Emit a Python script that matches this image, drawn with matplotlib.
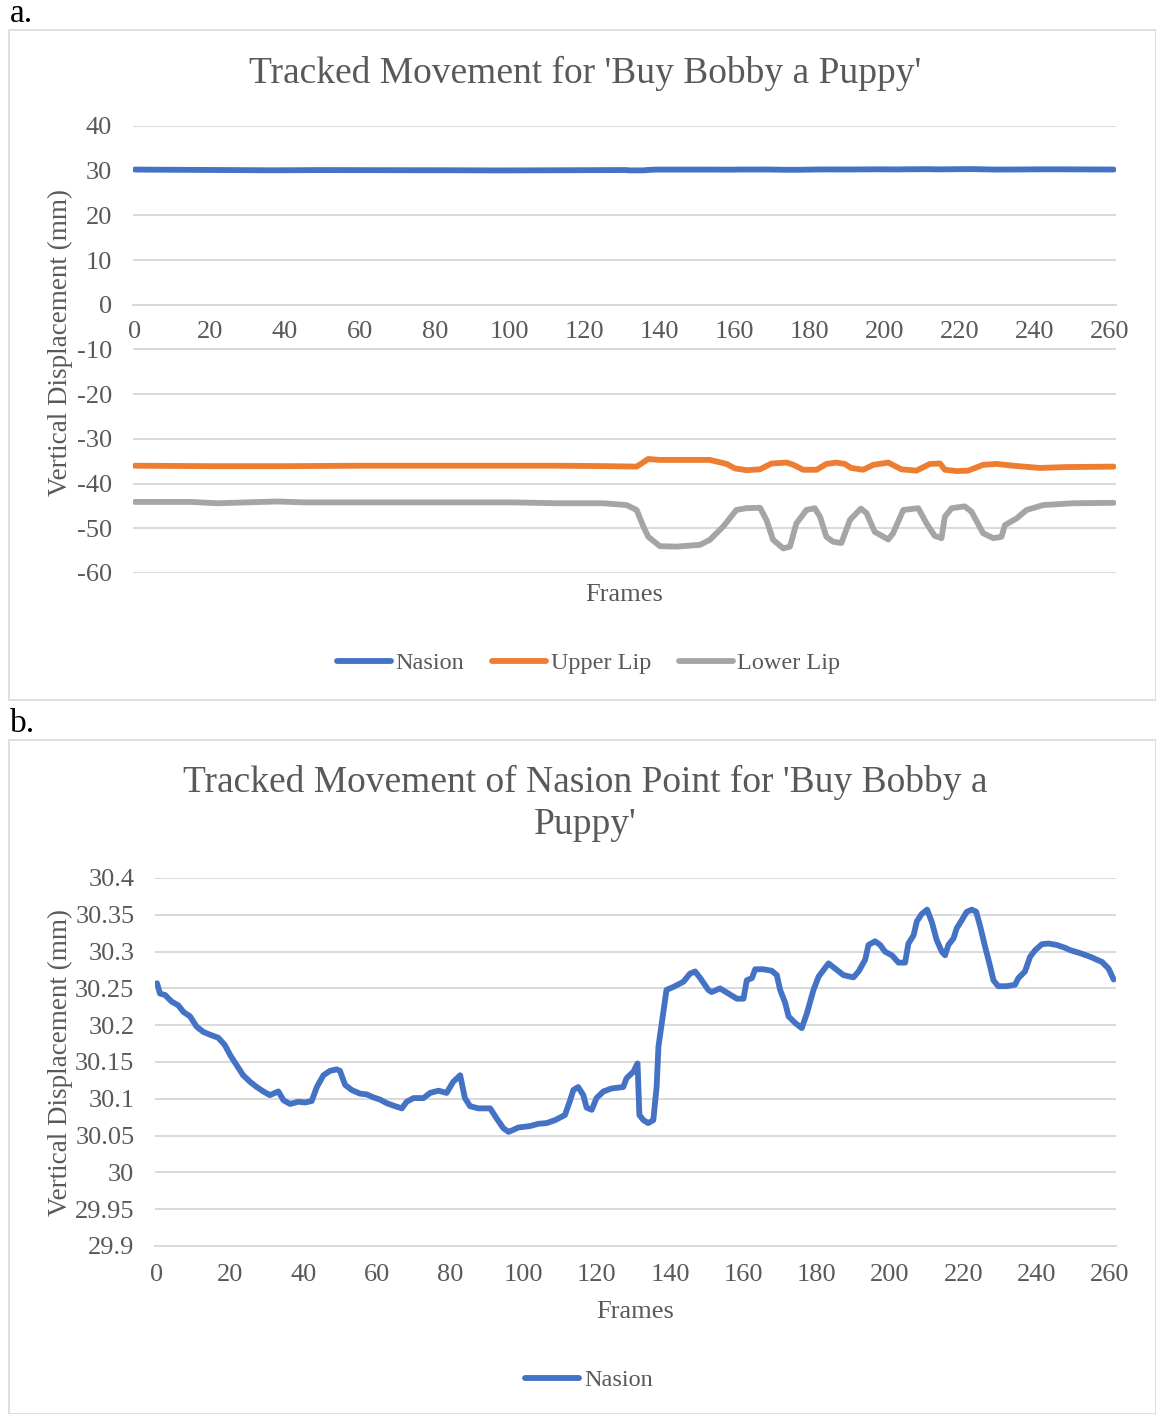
import matplotlib.pyplot as plt
from matplotlib.patches import Rectangle

# Nasion (shared by both panels)
nasion_frames = [0, 0.8, 2.2, 4, 5.8, 7.2, 9, 10.8, 12.6, 14.5, 16.7, 18.5, 20, 21.7, 23.5,
                 25.4, 27.2, 29, 30.8, 33.1, 34.5, 36.3, 38.6, 40.4, 42.2, 43.6, 45.4, 47.2,
                 49, 49.9, 51.3, 53.1, 55.4, 57.2, 59, 60.8, 62.7, 64.9, 66.8, 68.1, 70, 72.7,
                 74.5, 76.8, 79, 80.8, 82.7, 84, 85.4, 87.7, 90.9, 92.7, 94.5, 95.9, 98.6,
                 101.8, 104, 106.3, 108.6, 111.3, 112.7, 113.6, 114.9, 116.3, 117.2, 118.6,
                 119.9, 121.8, 124, 127.2, 128.1, 130, 131.1, 131.6, 132.7, 134, 135.4, 136.3,
                 136.8, 138.1, 139, 140.9, 143.6, 145.4, 146.8, 148.2, 150.4, 151.3, 153.6,
                 155.9, 158.2, 160, 160.9, 162.3, 163.2, 165.4, 167.7, 169.1, 170, 171.4,
                 172.3, 174.1, 175.9, 177.3, 179.1, 180.5, 183.2, 185, 187.3, 190, 191.4,
                 193.2, 194.1, 195.9, 197.3, 198.6, 200.5, 202.3, 204.1, 205, 206.4, 207.3,
                 208.6, 210.1, 211.4, 212.7, 214.1, 215, 215.9, 217.3, 218.2, 219.6, 220.9,
                 222.3, 223.5, 224.6, 225.9, 227.1, 228.2, 229.5, 231.8, 234.1, 235, 236.8,
                 238.2, 239.6, 241.4, 243.2, 245.5, 247.8, 249.1, 251.8, 254.6, 257.8, 259.6,
                 261]
nasion = [30.257, 30.243, 30.241, 30.232, 30.227, 30.218, 30.212, 30.198, 30.191, 30.187,
          30.183, 30.173, 30.159, 30.146, 30.132, 30.123, 30.116, 30.110, 30.105, 30.110,
          30.098, 30.093, 30.096, 30.095, 30.097, 30.116, 30.132, 30.138, 30.140, 30.138,
          30.119, 30.112, 30.107, 30.106, 30.102, 30.099, 30.094, 30.090, 30.087, 30.096,
          30.101, 30.101, 30.108, 30.111, 30.108, 30.123, 30.132, 30.101, 30.090, 30.087,
          30.087, 30.073, 30.060, 30.055, 30.061, 30.063, 30.066, 30.067, 30.071, 30.078,
          30.098, 30.112, 30.116, 30.105, 30.088, 30.085, 30.101, 30.110, 30.114, 30.116,
          30.128, 30.137, 30.148, 30.078, 30.071, 30.067, 30.071, 30.116, 30.171, 30.216,
          30.248, 30.252, 30.259, 30.270, 30.273, 30.264, 30.248, 30.245, 30.250, 30.243,
          30.236, 30.236, 30.261, 30.264, 30.276, 30.276, 30.274, 30.268, 30.248, 30.230,
          30.212, 30.203, 30.196, 30.216, 30.248, 30.266, 30.284, 30.277, 30.268, 30.265,
          30.273, 30.289, 30.309, 30.314, 30.309, 30.300, 30.295, 30.285, 30.285, 30.311,
          30.322, 30.341, 30.351, 30.357, 30.340, 30.316, 30.300, 30.295, 30.309, 30.318,
          30.332, 30.343, 30.354, 30.357, 30.354, 30.334, 30.307, 30.284, 30.261, 30.253,
          30.253, 30.255, 30.264, 30.273, 30.293, 30.302, 30.310, 30.311, 30.309, 30.305,
          30.302, 30.298, 30.293, 30.286, 30.277, 30.262]

upper_frames = [0, 20, 40, 60, 80, 100, 113, 126, 133.8, 135.1, 136.9, 140, 153.3, 157.8,
                160, 163.1, 166.7, 169.8, 173.8, 175.6, 178.2, 181.8, 184.4, 187.1, 189.3,
                191, 194.2, 196.9, 200.9, 204.4, 208.4, 212, 214.7, 216, 219.1, 222.2, 226.2,
                229.8, 234.2, 241.3, 248.4, 261]
upper_lip = [-36.0, -36.1, -36.1, -36.0, -36.0, -36.0, -36.0, -36.1, -36.2, -35.5, -34.5,
             -34.7, -34.7, -35.6, -36.6, -37.0, -36.8, -35.5, -35.3, -35.8, -36.9, -36.9,
             -35.6, -35.3, -35.6, -36.5, -36.9, -35.8, -35.3, -36.8, -37.1, -35.6, -35.5,
             -36.9, -37.2, -37.1, -35.8, -35.6, -36.0, -36.5, -36.3, -36.2]

lower_frames = [0, 15, 22, 30, 38, 45, 60, 80, 100, 113.3, 125, 131.1, 133.8, 135.6, 136.9,
                140, 144.4, 150.7, 153.3, 156.9, 160.4, 163.1, 166.7, 168.4, 170.2, 172.9,
                174.7, 176.4, 179.1, 181.3, 182.7, 184.4, 186.2, 188.4, 190.7, 193.6, 195.1,
                197.3, 200.9, 202.2, 204.9, 208.9, 211.1, 213.3, 215.1, 216, 217.8, 221.3,
                223.1, 226.2, 228.9, 231.1, 232, 235.1, 237.8, 242.2, 250.2, 261]
lower_lip = [-44.1, -44.1, -44.4, -44.2, -44.0, -44.2, -44.2, -44.2, -44.2, -44.4, -44.4,
             -44.8, -45.9, -49.6, -51.9, -54.0, -54.1, -53.7, -52.6, -49.6, -45.9, -45.5,
             -45.4, -48.1, -52.6, -54.5, -54.1, -48.9, -45.9, -45.5, -47.4, -51.9, -53.0,
             -53.3, -48.1, -45.6, -46.6, -50.8, -52.5, -51.1, -45.9, -45.5, -48.9, -51.7,
             -52.2, -47.4, -45.5, -45.1, -46.3, -51.1, -52.2, -51.9, -49.3, -47.8, -45.9,
             -44.8, -44.4, -44.3]

x_ticks = list(range(0, 261, 20))
yticks_a = list(range(-60, 41, 10))
yticks_b = [29.9, 29.95, 30, 30.05, 30.1, 30.15, 30.2, 30.25, 30.3, 30.35, 30.4]
yticklabels_b = ['29.9', '29.95', '30', '30.05', '30.1', '30.15', '30.2', '30.25', '30.3',
                 '30.35', '30.4']

plt.rcParams['font.family'] = ['Liberation Serif', 'DejaVu Serif']
plt.rcParams['axes.unicode_minus'] = False
TXT = '#595959'
GRID = '#D9D9D9'
BLUE, ORANGE, GRAY = '#4472C4', '#ED7D31', '#A5A5A5'
LW = 4.2

W, H = 1156, 1414
fig = plt.figure(figsize=(W / 100, H / 100), dpi=100)


def px_axes(left, top, right, bottom):
    return fig.add_axes([left / W, 1 - bottom / H, (right - left) / W, (bottom - top) / H])


def style(ax, yticks, ylabels, xpad):
    ax.set_xlim(-0.5, 261.5)
    ax.set_xticks(x_ticks)
    ax.set_yticks(yticks)
    if ylabels is not None:
        ax.set_yticklabels(ylabels)
    ax.grid(axis='y', color=GRID, lw=1.4)
    ax.set_axisbelow(True)
    for s in ['top', 'right', 'left']:
        ax.spines[s].set_visible(False)
    ax.spines['bottom'].set_color(GRID)
    ax.spines['bottom'].set_linewidth(1.4)
    ax.tick_params(length=0, labelsize=19, colors=TXT)
    ax.tick_params(axis='y', pad=15)
    ax.tick_params(axis='x', pad=xpad)


# panel boxes
for top, bottom in [(30, 700), (740, 1414)]:
    fig.patches.append(Rectangle((9 / W, 1 - bottom / H), (W - 9) / W, (bottom - top) / H,
                                 transform=fig.transFigure, fill=False, ec=GRID, lw=1.2))
fig.text(10 / W, 1 - 14 / H, 'a.', fontsize=24, color='black', va='center', ha='left')
fig.text(10 / W, 1 - 724 / H, 'b.', fontsize=24, color='black', va='center', ha='left')

# panel a
ax1 = px_axes(133, 126, 1115.5, 573)
ax1.plot(nasion_frames, nasion, color=BLUE, lw=LW, solid_capstyle='round', label='Nasion')
ax1.plot(upper_frames, upper_lip, color=ORANGE, lw=LW, solid_capstyle='round', label='Upper Lip')
ax1.plot(lower_frames, lower_lip, color=GRAY, lw=LW, solid_capstyle='round', label='Lower Lip')
ax1.set_ylim(-60, 40)
style(ax1, yticks_a, None, 12)
ax1.spines['bottom'].set_position(('data', 0))
fig.text(585 / W, 1 - 73 / H, "Tracked Movement for 'Buy Bobby a Puppy'", fontsize=27,
         color=TXT, ha='center', va='center')
fig.text(624 / W, 1 - 595 / H, 'Frames', fontsize=19, color=TXT, ha='center', va='center')
fig.text(60 / W, 1 - 343 / H, 'Vertical Displacement (mm)', fontsize=19.5, color=TXT,
         ha='center', va='center', rotation=90)
fig.legend(*ax1.get_legend_handles_labels(), loc='center', bbox_to_anchor=(589 / W, 1 - 663 / H),
           ncol=3, frameon=False, fontsize=17.5, labelcolor=TXT, handlelength=2.2,
           handletextpad=0.2, columnspacing=1.15)

# panel b
ax2 = px_axes(155.2, 878, 1115.5, 1246)
ax2.plot(nasion_frames, nasion, color=BLUE, lw=LW, solid_capstyle='round', label='Nasion')
ax2.set_ylim(29.9, 30.4)
style(ax2, yticks_b, yticklabels_b, 13)
fig.text(585 / W, 1 - 803.5 / H, "Tracked Movement of Nasion Point for 'Buy Bobby a\nPuppy'",
         fontsize=27, color=TXT, ha='center', va='center', linespacing=1.3)
fig.text(635 / W, 1 - 1312 / H, 'Frames', fontsize=19, color=TXT, ha='center', va='center')
fig.text(60 / W, 1 - 1062 / H, 'Vertical Displacement (mm)', fontsize=19.5, color=TXT,
         ha='center', va='center', rotation=90)
fig.legend(*ax2.get_legend_handles_labels(), loc='center', bbox_to_anchor=(589 / W, 1 - 1380 / H),
           ncol=1, frameon=False, fontsize=17.5, labelcolor=TXT, handlelength=2.2,
           handletextpad=0.2)

fig.savefig('out.png', dpi=100)
